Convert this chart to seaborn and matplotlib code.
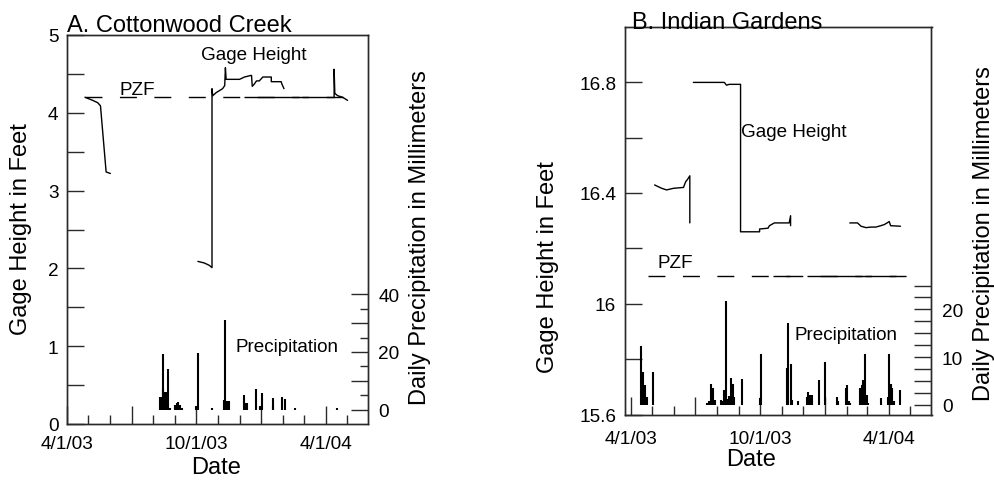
import numpy as np
import pandas as pd
import matplotlib
matplotlib.use("Agg")
import matplotlib.pyplot as plt
import matplotlib.dates as mdates
from matplotlib.ticker import FixedLocator, FuncFormatter
import seaborn as sns

sns.set_style("white")
plt.rcParams["font.family"] = ["Liberation Sans", "DejaVu Sans"]
plt.rcParams.update({"text.color": "black", "axes.labelcolor": "black",
                     "xtick.color": "black", "ytick.color": "black"})

# ---------------- data: A. Cottonwood Creek ----------------
a_gage_dates = ["2003-04-26", "2003-05-07", "2003-05-14", "2003-05-18", "2003-05-26", "2003-06-01",
                "2003-10-03", "2003-10-12", "2003-10-19", "2003-10-23", "2003-10-23", "2003-10-24",
                "2003-10-29", "2003-11-07", "2003-11-10", "2003-11-11", "2003-11-12", "2003-12-01",
                "2003-12-08", "2003-12-17", "2003-12-18", "2003-12-19", "2003-12-22", "2003-12-25",
                "2003-12-29", "2004-01-03", "2004-01-15", "2004-01-15", "2004-01-29", "2004-01-30",
                "2004-02-02",
                "2004-04-13", "2004-04-13", "2004-04-14", "2004-04-18", "2004-04-25", "2004-05-02"]
a_gage_values = [4.20, 4.16, 4.13, 4.09, 3.24, 3.22,
                 2.09, 2.07, 2.04, 2.01, 4.31, 4.22,
                 4.26, 4.31, 4.35, 4.58, 4.43, 4.43,
                 4.46, 4.48, 4.48, 4.34, 4.37, 4.41,
                 4.41, 4.46, 4.46, 4.40, 4.40, 4.37,
                 4.31,
                 4.20, 4.56, 4.25, 4.22, 4.20, 4.16]
a_gage_seg = [1] * 6 + [2] * 25 + [3] * 6
a_pzf = 4.2
a_pzf_start, a_pzf_end = "2003-04-26", "2004-05-02"
a_pzf_solid_start = ["2003-12-08", "2004-02-28"]
a_pzf_solid_end = ["2004-02-23", "2004-04-13"]

a_precip_dates = ["2003-08-10", "2003-08-12", "2003-08-14", "2003-08-15", "2003-08-18", "2003-08-20",
                  "2003-08-22", "2003-08-24", "2003-09-01", "2003-09-03", "2003-09-05", "2003-09-08",
                  "2003-09-10", "2003-09-30", "2003-10-03", "2003-10-23", "2003-11-09", "2003-11-11",
                  "2003-11-13", "2003-11-16", "2003-12-07", "2003-12-09", "2003-12-12", "2003-12-24",
                  "2003-12-30", "2004-01-02", "2004-01-17", "2004-01-18", "2004-01-30", "2004-02-03",
                  "2004-02-18", "2004-04-17"]
a_precip_mm = [4.6, 4.6, 19.3, 7.4, 6.2, 6.2,
               14.1, 0.8, 1.6, 2.3, 2.8, 1.7,
               0.5, 1.4, 19.7, 0.5, 3.5, 31.1,
               3.2, 2.9, 5.1, 2.5, 2.3, 7.1,
               1.4, 5.8, 1.4, 4.1, 4.3, 3.7,
               0.5, 0.5]

# ---------------- data: B. Indian Gardens ----------------
b_gage_dates = ["2003-05-04", "2003-05-14", "2003-05-21", "2003-05-31", "2003-06-14", "2003-06-17",
                "2003-06-20", "2003-06-23", "2003-06-23",
                "2003-06-28", "2003-08-11", "2003-08-14", "2003-08-18", "2003-08-28", "2003-09-03",
                "2003-09-03", "2003-09-30", "2003-09-30", "2003-10-12", "2003-10-14", "2003-10-21",
                "2003-11-11", "2003-11-13", "2003-11-13",
                "2004-02-05", "2004-02-16", "2004-02-21", "2004-02-28", "2004-03-06", "2004-03-13",
                "2004-03-20", "2004-03-25", "2004-03-29", "2004-04-01", "2004-04-03", "2004-04-17"]
b_gage_values = [16.429, 16.417, 16.411, 16.417, 16.420, 16.440,
                 16.450, 16.462, 16.292,
                 16.799, 16.799, 16.789, 16.792, 16.792, 16.792,
                 16.260, 16.260, 16.270, 16.273, 16.282, 16.292,
                 16.292, 16.318, 16.282,
                 16.292, 16.292, 16.280, 16.275, 16.277, 16.277,
                 16.282, 16.286, 16.292, 16.297, 16.282, 16.280]
b_gage_seg = [1] * 9 + [2] * 15 + [3] * 12
b_pzf = 16.1
b_pzf_start, b_pzf_end = "2003-04-25", "2004-05-04"
b_pzf_solid_start = ["2003-10-19", "2003-12-07", "2004-02-27"]
b_pzf_solid_end = ["2003-11-12", "2004-02-23", "2004-04-11"]

b_precip_dates = ["2003-04-14", "2003-04-17", "2003-04-20", "2003-04-23", "2003-05-02",
                  "2003-07-18", "2003-07-20", "2003-07-23", "2003-07-26", "2003-07-29",
                  "2003-08-06", "2003-08-08", "2003-08-10", "2003-08-13", "2003-08-15", "2003-08-18",
                  "2003-08-21", "2003-08-23", "2003-08-24", "2003-09-05", "2003-09-30", "2003-10-02",
                  "2003-11-08", "2003-11-10", "2003-11-13", "2003-11-15", "2003-11-24",
                  "2003-12-06", "2003-12-08", "2003-12-10", "2003-12-13", "2003-12-24",
                  "2004-01-01", "2004-01-18", "2004-01-19", "2004-01-30", "2004-02-01", "2004-02-04",
                  "2004-02-06", "2004-02-20", "2004-02-22", "2004-02-24", "2004-02-26", "2004-02-29",
                  "2004-03-02", "2004-03-21", "2004-03-30", "2004-03-31", "2004-04-03", "2004-04-05",
                  "2004-04-08", "2004-04-16"]
b_precip_mm = [12.3, 6.9, 4.1, 1.6, 6.9,
               0.4, 0.7, 4.4, 3.5, 0.9,
               0.9, 0.7, 3.0, 21.7, 1.1, 1.8,
               5.6, 4.4, 1.6, 5.3, 1.4, 10.7,
               7.6, 17.1, 8.6, 0.9, 0.7,
               1.6, 2.7, 2.1, 2.0, 5.1,
               9.0, 1.6, 0.7, 3.4, 4.1, 0.7,
               0.4, 3.4, 4.1, 5.1, 10.7, 2.0,
               0.3, 1.4, 1.6, 10.7, 4.4, 3.5,
               0.7, 3.0]

x_tick_labels = ["4/1/03", "10/1/03", "4/1/04"]

# ---------------- figure ----------------
W, H = 995, 481
fig = plt.figure(figsize=(W / 100, H / 100), dpi=100)

def frac(x0, x1, ytop, ybot):
    return [x0 / W, 1 - ybot / H, (x1 - x0) / W, (ybot - ytop) / H]

ax_a = fig.add_axes(frac(67.3, 368, 36, 425))
ax_b = fig.add_axes(frac(625, 931.5, 27.7, 415.7))

SPINE = "#2a2a2a"
TICKFS = 13.7
LABFS = 17
ANNFS = 13.6


def date_label(v, pos):
    d = mdates.num2date(v)
    s = f"{d.month}/{d.day}/{d.year % 100:02d}"
    return s if s in x_tick_labels else ""


def draw_panel(ax, gdates, gvals, gseg, pzf, pstart, pend, sstart, send,
               pdates, pmm, xlim, ylim, ylim2, xpad):
    df = pd.DataFrame({"date": pd.to_datetime(gdates), "gage": gvals, "seg": gseg})
    sns.lineplot(data=df, x="date", y="gage", units="seg", estimator=None, sort=False,
                 color="black", lw=1.0, ax=ax, legend=False)
    ax.hlines(pzf, pd.Timestamp(pstart), pd.Timestamp(pend), colors="black", lw=1.0,
              linestyles=[(0, (12.2, 12.6))])
    ax.hlines([pzf] * len(sstart), pd.to_datetime(sstart), pd.to_datetime(send),
              colors="black", lw=1.0)
    ax.set_xlim(pd.Timestamp(xlim[0]), pd.Timestamp(xlim[1]))
    ax.set_ylim(*ylim)
    ax.xaxis.set_major_locator(mdates.MonthLocator(bymonth=[1, 4, 7, 10]))
    ax.xaxis.set_minor_locator(mdates.MonthLocator())
    ax.xaxis.set_major_formatter(FuncFormatter(date_label))
    ax.tick_params(axis="x", which="major", direction="in", length=13, width=1,
                   bottom=True, top=False, labelsize=TICKFS, pad=xpad, color=SPINE,
                   labelcolor="black")
    ax.tick_params(axis="x", which="minor", direction="in", length=6.5, width=1,
                   bottom=True, top=False, color=SPINE)
    ax.tick_params(axis="y", which="both", direction="in", length=12.5, width=1,
                   left=True, right=False, labelsize=TICKFS, pad=6.3, color=SPINE,
                   labelcolor="black")
    ax.yaxis.set_major_formatter(FuncFormatter(lambda v, p: f"{v:g}"))
    for s in ax.spines.values():
        s.set_color(SPINE)
        s.set_linewidth(1.0)

    ax2 = ax.twinx()
    ax2.vlines(pd.to_datetime(pdates), 0, pmm, colors="black", lw=1.5)
    ax2.set_ylim(*ylim2)
    ax2.tick_params(axis="y", which="both", direction="in", width=1, right=True, left=False,
                    labelsize=TICKFS, pad=7.4, color=SPINE, labelcolor="black")
    for s in ax2.spines.values():
        s.set_color(SPINE)
        s.set_linewidth(1.0)
    ax.set_xlabel("")
    ax.set_ylabel("")
    return ax2


# Panel A
ax2_a = draw_panel(ax_a, a_gage_dates, a_gage_values, a_gage_seg, a_pzf, a_pzf_start, a_pzf_end,
                   a_pzf_solid_start, a_pzf_solid_end, a_precip_dates, a_precip_mm,
                   ("2003-04-01", "2004-05-31"), (0, 5), (-4.9, 129.6), 8.2)
ax_a.yaxis.set_major_locator(FixedLocator([0, 1, 2, 3, 4, 5]))
ax_a.yaxis.set_minor_locator(FixedLocator([0.5, 1.5, 2.5, 3.5, 4.5]))
ax2_a.yaxis.set_major_locator(FixedLocator([0, 10, 20, 30, 40]))
ax2_a.yaxis.set_minor_locator(FixedLocator([5, 15, 25, 35]))
ax2_a.yaxis.set_major_formatter(FuncFormatter(lambda v, p: f"{v:g}" if v % 20 == 0 else ""))
ax2_a.tick_params(axis="y", which="major", length=12.5)
ax2_a.tick_params(axis="y", which="minor", length=6)

# Panel B
ax2_b = draw_panel(ax_b, b_gage_dates, b_gage_values, b_gage_seg, b_pzf, b_pzf_start, b_pzf_end,
                   b_pzf_solid_start, b_pzf_solid_end, b_precip_dates, b_precip_mm,
                   ("2003-03-23", "2004-05-31"), (15.6, 17.0), (-2.1, 79.3), 10.8)
ax_b.yaxis.set_major_locator(FixedLocator([15.6, 16.0, 16.4, 16.8]))
ax_b.yaxis.set_minor_locator(FixedLocator([15.8, 16.2, 16.6]))
ax2_b.yaxis.set_major_locator(FixedLocator([0, 10, 20]))
ax2_b.yaxis.set_minor_locator(FixedLocator([2.5, 5, 7.5, 12.5, 15, 17.5, 22.5, 25]))
ax2_b.yaxis.set_major_formatter(FuncFormatter(lambda v, p: f"{v:g}"))
ax2_b.tick_params(axis="y", which="both", length=12.5)

# axis labels
for ax, ax2, yl, yr, xl in [
    (ax_a, ax2_a, (-0.154, 0.504), (1.173, 0.483), (0.4945, -0.1105)),
    (ax_b, ax2_b, (-0.251, 0.382), (1.172, 0.469), (0.411, -0.113)),
]:
    ax.set_ylabel("Gage Height in Feet", fontsize=LABFS, va="center", ha="center")
    ax.yaxis.set_label_coords(*yl)
    ax2.set_ylabel("Daily Precipitation in Millimeters", fontsize=LABFS, va="center", ha="center")
    ax2.yaxis.set_label_coords(*yr)
    ax.set_xlabel("Date", fontsize=LABFS, va="center", ha="center")
    ax.xaxis.set_label_coords(*xl)


def ftext(x, ybase, s, size):
    fig.text(x / W, 1 - ybase / H, s, fontsize=size, ha="left", va="baseline")


ftext(67.3, 32, "A. Cottonwood Creek", LABFS)
ftext(631.7, 28.6, "B. Indian Gardens", LABFS)
ftext(120, 95, "PZF", ANNFS)
ftext(200.7, 60, "Gage Height", ANNFS)
ftext(235.7, 351.7, "Precipitation", ANNFS)
ftext(657.7, 268.4, "PZF", ANNFS)
ftext(740.7, 136.7, "Gage Height", ANNFS)
ftext(795, 340, "Precipitation", ANNFS)

fig.savefig("out.png", dpi=100)
